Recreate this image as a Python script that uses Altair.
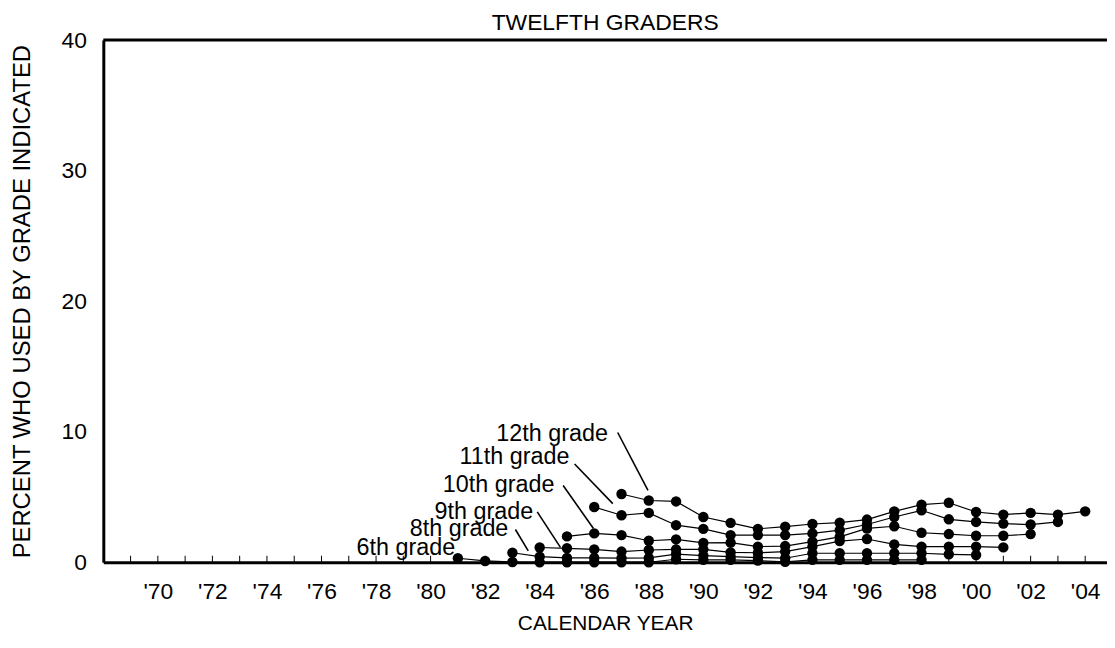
import altair as alt
import pandas as pd

# ---- data (percent who used by grade indicated, by calendar year) ----
years_12 = list(range(1987, 2005))
vals_12 = [5.23, 4.73, 4.66, 3.47, 3.02, 2.56, 2.73, 2.93, 3.03, 3.27, 3.9, 4.41, 4.56, 3.85, 3.65, 3.78, 3.65, 3.9]

years_11 = list(range(1986, 2004))
vals_11 = [4.23, 3.6, 3.78, 2.84, 2.56, 2.08, 2.08, 2.08, 2.21, 2.46, 2.89, 3.47, 3.98, 3.29, 3.09, 2.96, 2.89, 3.09]

years_10 = list(range(1985, 2003))
vals_10 = [1.98, 2.21, 2.08, 1.65, 1.75, 1.48, 1.5, 1.2, 1.24, 1.58, 1.95, 2.59, 2.76, 2.26, 2.16, 2.03, 2.03, 2.16]

years_9 = list(range(1984, 2002))
vals_9 = [1.13, 1.07, 0.99, 0.82, 0.94, 0.99, 0.99, 0.76, 0.73, 0.82, 1.2, 1.62, 1.78, 1.37, 1.2, 1.2, 1.2, 1.14]

years_8 = list(range(1983, 2001))
vals_8 = [0.73, 0.43, 0.33, 0.33, 0.31, 0.33, 0.63, 0.51, 0.43, 0.36, 0.31, 0.69, 0.69, 0.69, 0.69, 0.69, 0.61, 0.56]

years_6 = list(range(1981, 1999))
vals_6 = [0.31, 0.1, 0.02, 0.0, 0.0, 0.0, 0.0, 0.0, 0.23, 0.18, 0.18, 0.13, 0.03, 0.18, 0.18, 0.18, 0.18, 0.18]

grade_names = ["12th grade", "11th grade", "10th grade", "9th grade", "8th grade", "6th grade"]
series = [(years_12, vals_12), (years_11, vals_11), (years_10, vals_10),
          (years_9, vals_9), (years_8, vals_8), (years_6, vals_6)]

# label annotations (data coordinates: right end / baseline)
label_x = [1986.50, 1985.09, 1984.54, 1983.76, 1982.85, 1980.90]
label_y = [9.30, 7.53, 5.42, 3.35, 1.98, 0.53]
# leader lines for labels (data coordinates)
lead_x1 = [1986.86, 1985.28, 1984.86, 1983.91, 1983.11]
lead_y1 = [9.94, 7.53, 5.88, 3.86, 2.51]
lead_x2 = [1987.97, 1986.68, 1985.97, 1984.76, 1983.58]
lead_y2 = [5.50, 4.49, 2.59, 1.14, 0.87]

tick_years = list(range(1969, 2005))
label_years = list(range(1970, 2005, 2))
y_ticks = [0, 10, 20, 30, 40]

chart_title = "TWELFTH GRADERS"
x_title = "CALENDAR YEAR"
y_title = "PERCENT WHO USED BY GRADE INDICATED"

X_DOMAIN = [1968, 2004.8]
Y_DOMAIN = [0, 40]
FONT = "Liberation Sans"
W, H = 1011, 526

rows = []
for name, (yrs, vals) in zip(grade_names, series):
    for yr, v in zip(yrs, vals):
        rows.append({"grade": name, "year": yr, "value": v})
df = pd.DataFrame(rows)

labels_df = pd.DataFrame({"text": grade_names, "x": label_x, "y": label_y})
leads_df = pd.DataFrame({"x": lead_x1, "y": lead_y1, "x2": lead_x2, "y2": lead_y2})
ticks_df = pd.DataFrame({"year": tick_years})

xscale = alt.Scale(domain=X_DOMAIN, nice=False, zero=False)
yscale = alt.Scale(domain=Y_DOMAIN, nice=False)

x_axis = alt.Axis(
    values=label_years,
    labelExpr="\"'\" + substring(toString(datum.value), 2)",
    ticks=False, tickSize=0, grid=False,
    domainColor="black", domainWidth=3,
    labelFont=FONT, labelFontSize=23, labelColor="black", labelPadding=19,
    title=x_title, titleFont=FONT, titleFontSize=21, titleFontWeight="normal",
    titleColor="black", titlePadding=9,
)
y_axis = alt.Axis(
    values=y_ticks, ticks=False, tickSize=0, grid=False,
    domainColor="black", domainWidth=3,
    labelFont=FONT, labelFontSize=23, labelColor="black", labelPadding=17,
    title=y_title, titleFont=FONT, titleFontSize=24,
    titleFontWeight="normal", titleColor="black", titlePadding=27,
)

base = alt.Chart(df)

lines = base.mark_line(color="black", strokeWidth=1.2).encode(
    x=alt.X("year:Q", scale=xscale, axis=x_axis),
    y=alt.Y("value:Q", scale=yscale, axis=y_axis),
    detail="grade:N",
)
points = base.mark_circle(color="black", size=110, opacity=1).encode(
    x=alt.X("year:Q", scale=xscale),
    y=alt.Y("value:Q", scale=yscale),
)

inner_ticks = alt.Chart(ticks_df).mark_rule(color="black", strokeWidth=1).encode(
    x=alt.X("year:Q", scale=xscale),
    y=alt.datum(0),
    y2=alt.datum(0.5),
)

top_frame = alt.Chart(pd.DataFrame({"a": [X_DOMAIN[0]], "b": [X_DOMAIN[1]], "v": [Y_DOMAIN[1]]})).mark_rule(
    color="black", strokeWidth=3
).encode(
    x=alt.X("a:Q", scale=xscale),
    x2="b:Q",
    y=alt.Y("v:Q", scale=yscale),
)

leaders = alt.Chart(leads_df).mark_rule(color="black", strokeWidth=1.6).encode(
    x=alt.X("x:Q", scale=xscale), y=alt.Y("y:Q", scale=yscale), x2="x2:Q", y2="y2:Q"
)

texts = alt.Chart(labels_df).mark_text(
    font=FONT, fontSize=23.5, color="black", align="right", baseline="alphabetic"
).encode(
    x=alt.X("x:Q", scale=xscale), y=alt.Y("y:Q", scale=yscale), text="text:N"
)

title_mark = alt.Chart(pd.DataFrame({"t": [chart_title]})).mark_text(
    font=FONT, fontSize=23, color="black", align="center", baseline="middle"
).encode(
    x=alt.value(W / 2), y=alt.value(-17), text="t:N"
)

chart = alt.layer(inner_ticks, top_frame, lines, points, leaders, texts, title_mark).properties(
    width=W,
    height=H,
    autosize=alt.AutoSizeParams(type="none"),
    padding={"left": 96, "top": 30, "right": 0, "bottom": 76},
).configure_view(strokeOpacity=0).configure(background="white")

chart.save("out.html", embed_options={"renderer": "svg", "actions": False})
